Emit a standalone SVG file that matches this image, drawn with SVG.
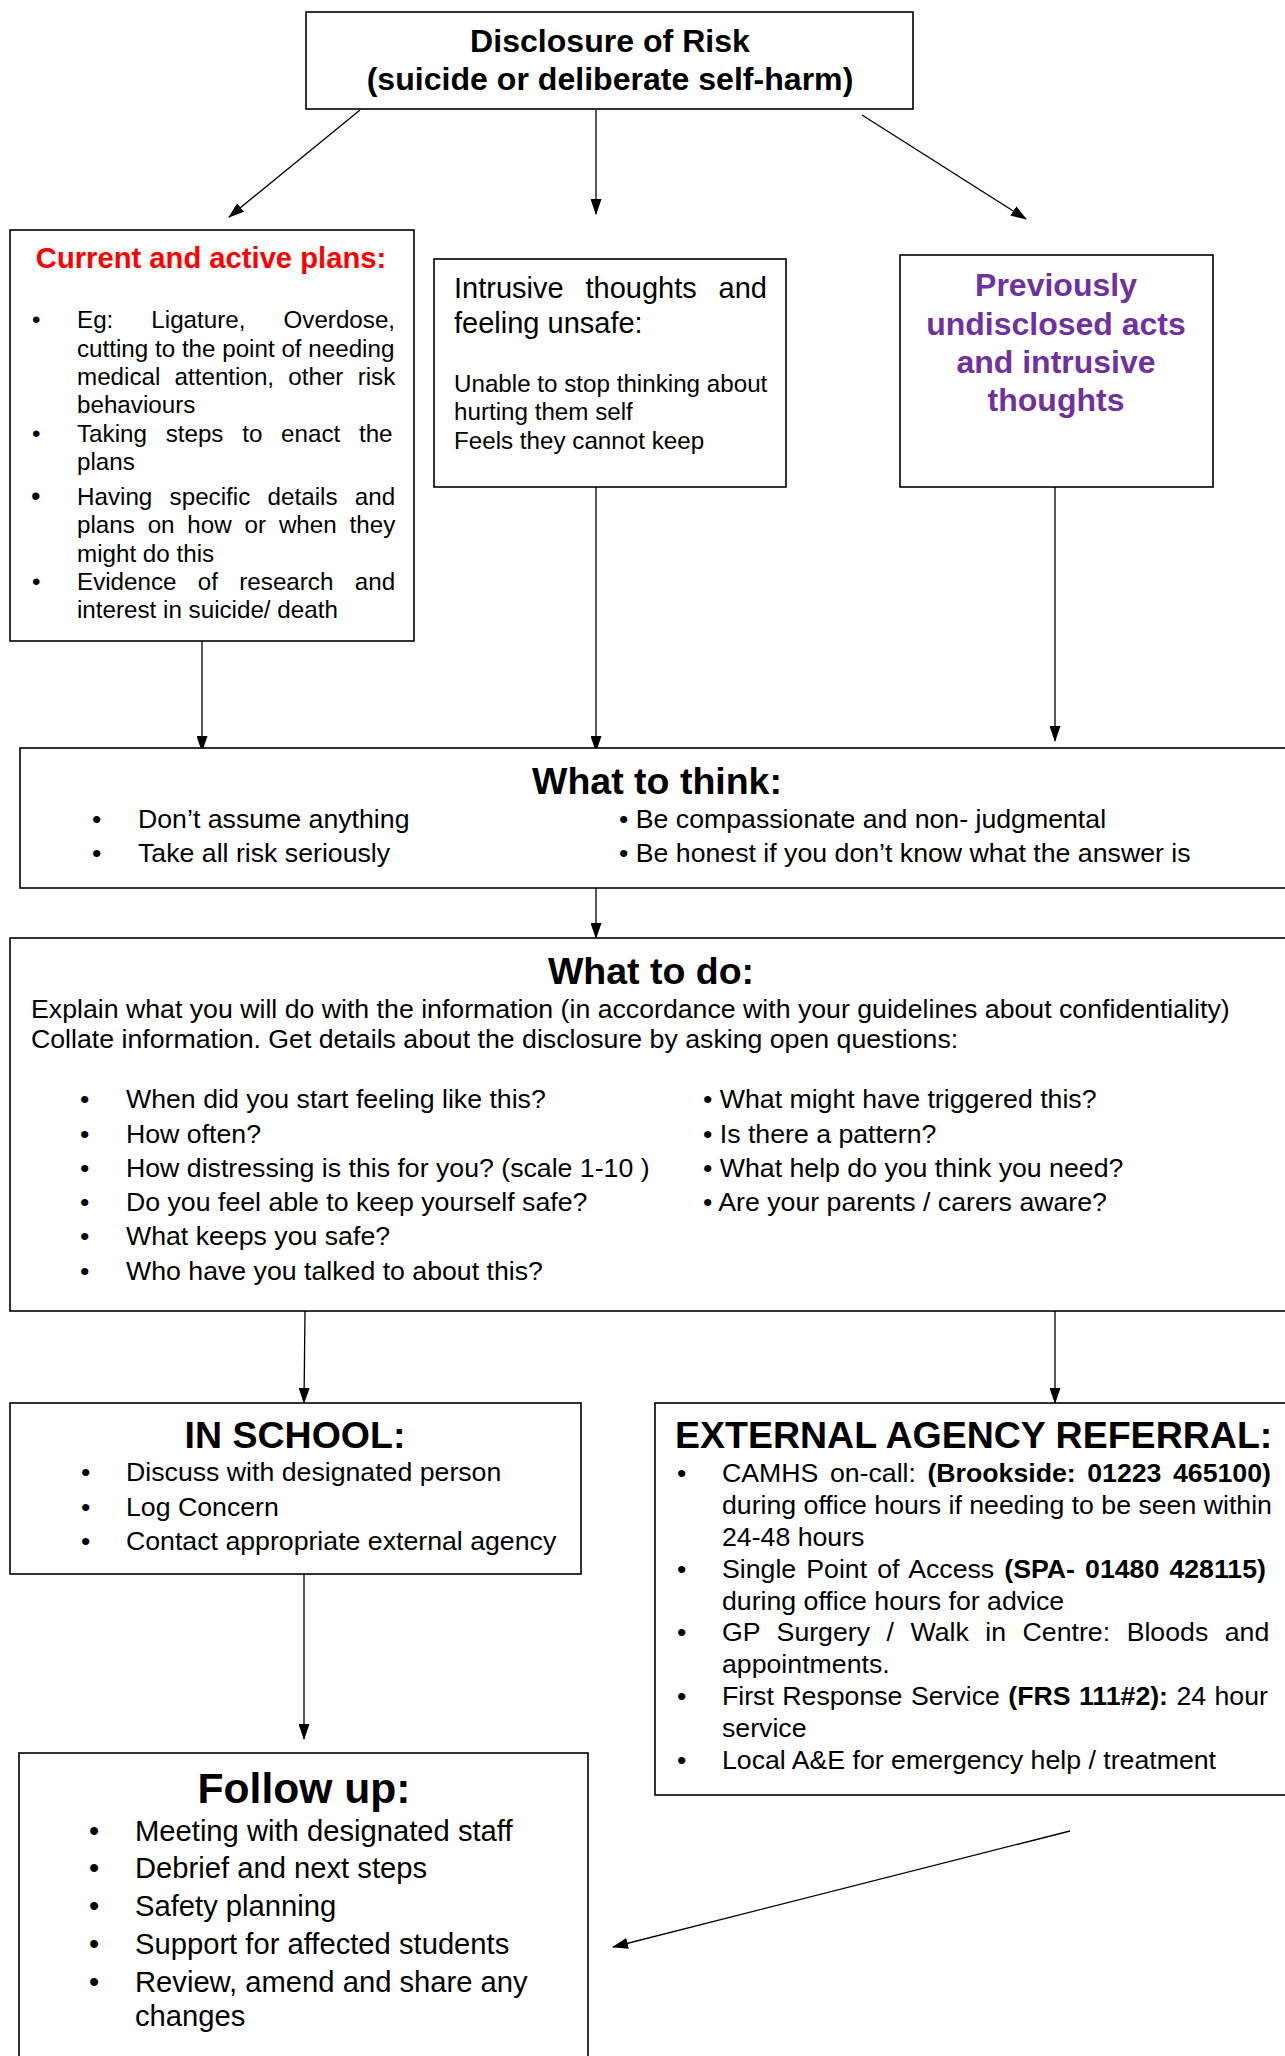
<svg xmlns="http://www.w3.org/2000/svg" width="1285" height="2056" viewBox="0 0 1285 2056">
<defs>
<style>
text{font-family:"Liberation Sans",Arial,sans-serif;fill:#000}
.box{fill:#fff;stroke:#000;stroke-width:1.6}
.b{font-weight:bold}
.t37{font-size:37.5px;font-weight:bold;text-anchor:middle}
.s24{font-size:24.2px}
.s26{font-size:26.7px}
.s29{font-size:29.2px}
.con line{stroke:#000;stroke-width:1.3;marker-end:url(#ah)}
</style>
<marker id="ah" viewBox="0 0 16 11" markerWidth="16" markerHeight="11" refX="15" refY="5.5" orient="auto" markerUnits="userSpaceOnUse">
<path d="M0,0 L16,5.5 L0,11 z" fill="#000"/>
</marker>
</defs>
<rect width="1285" height="2056" fill="#fff"/>

<g id="connectors" class="con">
<line x1="360" y1="110" x2="229" y2="217"/>
<line x1="596" y1="110" x2="596" y2="214"/>
<line x1="862" y1="115" x2="1026" y2="219"/>
<line x1="202" y1="641" x2="202" y2="751"/>
<line x1="596" y1="487" x2="596" y2="751"/>
<line x1="1055" y1="487" x2="1055" y2="741"/>
<line x1="596" y1="888" x2="596" y2="938"/>
<line x1="305" y1="1311" x2="304" y2="1403"/>
<line x1="1055" y1="1311" x2="1055" y2="1403"/>
<line x1="304" y1="1574" x2="304" y2="1739"/>
<line x1="1070" y1="1831" x2="613" y2="1947"/>
</g>

<g id="disclosure">
<rect class="box" x="306" y="12" width="607" height="97" stroke-width="2"/>
<text x="610" y="52" font-size="32.1" class="b" text-anchor="middle">Disclosure of Risk</text>
<text x="610" y="90" font-size="32.1" class="b" text-anchor="middle">(suicide or deliberate self-harm)</text>
</g>

<g id="current-plans">
<rect class="box" x="10" y="230" width="404" height="411"/>
<text x="211" y="268" class="s29 b" text-anchor="middle" style="fill:#FF0000">Current and active plans:</text>
<g class="s24">
<text x="32" y="328">•</text>
<text x="77" y="328" word-spacing="31.3">Eg: Ligature, Overdose,</text>
<text x="77" y="357">cutting to the point of needing</text>
<text x="77" y="385" word-spacing="7.5">medical attention, other risk</text>
<text x="77" y="413">behaviours</text>
<text x="32" y="442">•</text>
<text x="77" y="442" word-spacing="12">Taking steps to enact the</text>
<text x="77" y="470">plans</text>
<text x="31" y="505" font-size="27">•</text>
<text x="77" y="505" word-spacing="10.6">Having specific details and</text>
<text x="77" y="533" word-spacing="6.1">plans on how or when they</text>
<text x="77" y="562">might do this</text>
<text x="32" y="590">•</text>
<text x="77" y="590" word-spacing="14.6">Evidence of research and</text>
<text x="77" y="618">interest in suicide/ death</text>
</g>
</g>

<g id="intrusive">
<rect class="box" x="434" y="259" width="352" height="228"/>
<text x="454" y="298" font-size="29" word-spacing="13.8">Intrusive thoughts and</text>
<text x="454" y="333" font-size="29">feeling unsafe:</text>
<text x="454" y="392" class="s24">Unable to stop thinking about</text>
<text x="454" y="420" class="s24">hurting them self</text>
<text x="454" y="449" class="s24">Feels they cannot keep</text>
</g>

<g id="previously">
<rect class="box" x="900" y="255" width="313" height="232"/>
<g font-size="32" class="b" text-anchor="middle">
<text x="1056" y="296" style="fill:#7030A0">Previously</text>
<text x="1056" y="335" style="fill:#7030A0">undisclosed acts</text>
<text x="1056" y="373" style="fill:#7030A0">and intrusive</text>
<text x="1056" y="411" style="fill:#7030A0">thoughts</text>
</g>
</g>

<g id="what-to-think">
<rect class="box" x="20" y="748" width="1280" height="140"/>
<text x="657" y="794" class="t37">What to think:</text>
<g class="s26">
<text x="92" y="828">•</text>
<text x="138" y="828">Don’t assume anything</text>
<text x="92" y="862">•</text>
<text x="138" y="862">Take all risk seriously</text>
<text x="619" y="828">• Be compassionate and non- judgmental</text>
<text x="619" y="862">• Be honest if you don’t know what the answer is</text>
</g>
</g>

<g id="what-to-do">
<rect class="box" x="10" y="938" width="1290" height="373"/>
<text x="651" y="984" class="t37">What to do:</text>
<g class="s26">
<text x="31" y="1018">Explain what you will do with the information (in accordance with your guidelines about confidentiality)</text>
<text x="31" y="1048">Collate information. Get details about the disclosure by asking open questions:</text>
<text x="80" y="1108">•</text><text x="126" y="1108">When did you start feeling like this?</text>
<text x="80" y="1143">•</text><text x="126" y="1143">How often?</text>
<text x="80" y="1177">•</text><text x="126" y="1177">How distressing is this for you? (scale 1-10 )</text>
<text x="80" y="1211">•</text><text x="126" y="1211">Do you feel able to keep yourself safe?</text>
<text x="80" y="1245">•</text><text x="126" y="1245">What keeps you safe?</text>
<text x="80" y="1280">•</text><text x="126" y="1280">Who have you talked to about this?</text>
<text x="703" y="1108">• What might have triggered this?</text>
<text x="703" y="1143">• Is there a pattern?</text>
<text x="703" y="1177">• What help do you think you need?</text>
<text x="703" y="1211">• Are your parents / carers aware?</text>
</g>
</g>

<g id="in-school">
<rect class="box" x="10" y="1403" width="571" height="171"/>
<text x="295" y="1448" class="t37">IN SCHOOL:</text>
<g class="s26">
<text x="81" y="1481">•</text><text x="126" y="1481">Discuss with designated person</text>
<text x="81" y="1516">•</text><text x="126" y="1516">Log Concern</text>
<text x="81" y="1550">•</text><text x="126" y="1550">Contact appropriate external agency</text>
</g>
</g>

<g id="external-agency">
<rect class="box" x="655" y="1403" width="645" height="392"/>
<text x="675" y="1448" font-size="37.5" class="b">EXTERNAL AGENCY REFERRAL:</text>
<g class="s26">
<text x="677" y="1482">•</text>
<text x="722" y="1482" word-spacing="4.1">CAMHS on-call: <tspan class="b">(Brookside: 01223 465100)</tspan></text>
<text x="722" y="1514">during office hours if needing to be seen within</text>
<text x="722" y="1546">24-48 hours</text>
<text x="677" y="1578">•</text>
<text x="722" y="1578" word-spacing="2.7">Single Point of Access <tspan class="b">(SPA- 01480 428115)</tspan></text>
<text x="722" y="1610">during office hours for advice</text>
<text x="677" y="1641">•</text>
<text x="722" y="1641" word-spacing="9.1">GP Surgery / Walk in Centre: Bloods and</text>
<text x="722" y="1673">appointments.</text>
<text x="677" y="1705">•</text>
<text x="722" y="1705" word-spacing="1">First Response Service <tspan class="b">(FRS 111#2):</tspan> 24 hour</text>
<text x="722" y="1737">service</text>
<text x="677" y="1769">•</text>
<text x="722" y="1769">Local A&amp;E for emergency help / treatment</text>
</g>
</g>

<g id="follow-up">
<rect class="box" x="19" y="1753" width="569" height="320"/>
<text x="304" y="1803" font-size="42.6" class="b" text-anchor="middle">Follow up:</text>
<g class="s29">
<text x="89" y="1841">•</text><text x="135" y="1841">Meeting with designated staff</text>
<text x="89" y="1878">•</text><text x="135" y="1878">Debrief and next steps</text>
<text x="89" y="1916">•</text><text x="135" y="1916">Safety planning</text>
<text x="89" y="1954">•</text><text x="135" y="1954">Support for affected students</text>
<text x="89" y="1992">•</text><text x="135" y="1992">Review, amend and share any</text>
<text x="135" y="2026">changes</text>
</g>
</g>
</svg>
